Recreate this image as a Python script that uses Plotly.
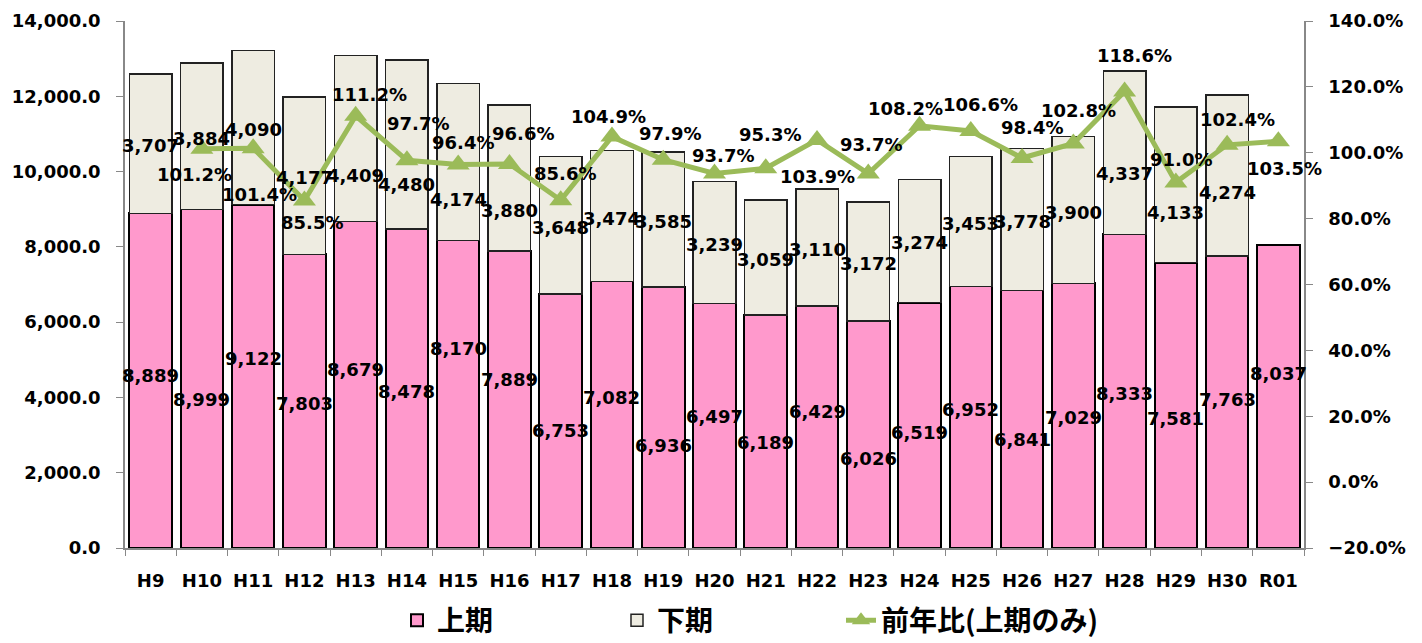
import plotly.graph_objects as go

categories = ["H9", "H10", "H11", "H12", "H13", "H14", "H15", "H16", "H17", "H18", "H19",
              "H20", "H21", "H22", "H23", "H24", "H25", "H26", "H27", "H28", "H29", "H30", "R01"]
first_half = [8889, 8999, 9122, 7803, 8679, 8478, 8170, 7889, 6753, 7082, 6936,
              6497, 6189, 6429, 6026, 6519, 6952, 6841, 7029, 8333, 7581, 7763, 8037]
second_half = [3707, 3884, 4090, 4177, 4409, 4480, 4174, 3880, 3648, 3474, 3585,
               3239, 3059, 3110, 3172, 3274, 3453, 3778, 3900, 4337, 4133, 4274, None]
yoy_ratio = [None, 101.2, 101.4, 85.5, 111.2, 97.7, 96.4, 96.6, 85.6, 104.9, 97.9,
             93.7, 95.3, 103.9, 93.7, 108.2, 106.6, 98.4, 102.8, 118.6, 91.0, 102.4, 103.5]

# label nudges in pixels (style only: positive = up / right)
first_label_dy = [5, -21, 18, -2, 15, -3, 46, 20, -10, 17, -28, 9, -11, 16, -24, -7, 8, -20, -2, -2, -13, 2, 23]
second_label_dy = [-2, -2, -2, -2, -37, -40, -38, -32, -2, -2, -2, -2, -2, -2, -2, -2, -2, -2, -2, -21, -28, -17, 0]
ratio_label_dy = [0, -26, -46, -22, 21, 37, 22, 30, 27, 20, 26, 18, 34, -37, 29, 17, 27, 31, 33, 36, 23, 25, -27]
ratio_label_dx = [0, -7, 6, 8, 14, 11, 5, 14, 4, -3, 7, 8, 4, 0, 3, -14, 10, 10, 5, 10, 5, 10, 6]

FONT = "DejaVu Sans"
lab_font = dict(family=FONT, size=18, color="black", weight="bold")

fig = go.Figure()
fig.add_trace(go.Bar(
    x=categories, y=first_half, name="上期", legend="legend",
    marker=dict(color="#FF99CC", line=dict(color="black", width=2)),
))
fig.add_trace(go.Bar(
    x=categories, y=second_half, name="下期", legend="legend2",
    marker=dict(color="#EEECE1", line=dict(color="#222222", width=1.5)),
))
fig.add_trace(go.Scatter(
    x=categories, y=yoy_ratio, name="前年比(上期のみ)", yaxis="y2", legend="legend3",
    mode="lines+markers",
    line=dict(color="#9BBB59", width=5),
    marker=dict(symbol="triangle-up", size=20, color="#9BBB59"),
))

annotations = []
for i, c in enumerate(categories):
    a = first_half[i]
    annotations.append(dict(x=c, y=a / 2, xref="x", yref="y", text=f"{a:,}",
                            showarrow=False, font=lab_font, yshift=first_label_dy[i]))
    b = second_half[i]
    if b is not None:
        annotations.append(dict(x=c, y=a + b / 2, xref="x", yref="y", text=f"{b:,}",
                                showarrow=False, font=lab_font, yshift=second_label_dy[i]))
    r = yoy_ratio[i]
    if r is not None:
        annotations.append(dict(x=c, y=r, xref="x", yref="y2", text=f"{r:.1f}%",
                                showarrow=False, font=lab_font,
                                yshift=ratio_label_dy[i], xshift=ratio_label_dx[i]))

tick_font = dict(family=FONT, size=18, color="black", weight="bold")
leg_font = dict(family="Noto Sans CJK JP", size=28, color="black", weight="bold")
leg_common = dict(orientation="h", xanchor="left", y=-0.09, yanchor="top",
                  font=leg_font, bgcolor="rgba(0,0,0,0)")

fig.update_layout(
    width=1414, height=635,
    margin=dict(l=117, r=118, t=13, b=95, autoexpand=False),
    barmode="stack", bargap=0.17,
    plot_bgcolor="white", paper_bgcolor="white",
    annotations=annotations,
    xaxis=dict(type="category", range=[-0.5, len(categories) - 0.5], showline=True,
               linecolor="#888888", linewidth=1.5,
               ticks="outside", tickson="boundaries", ticklen=6, tickcolor="#888888",
               tickfont=tick_font, ticklabelstandoff=16, showgrid=False),
    yaxis=dict(range=[0, 14000], dtick=2000, tickformat=",.1f", showline=True,
               linecolor="#888888", linewidth=1.5, ticks="outside", ticklen=7,
               tickcolor="#888888", tickfont=tick_font, showgrid=False, zeroline=False,
               ticklabelstandoff=12),
    yaxis2=dict(range=[-20, 140], dtick=20, tickformat=".1f", ticksuffix="%",
                overlaying="y", side="right", showline=True, linecolor="#888888",
                linewidth=1.5, ticks="outside", ticklen=7, tickcolor="#888888",
                tickfont=tick_font, showgrid=False, zeroline=False, ticklabelstandoff=12),
    legend=dict(x=0.2307, **leg_common),
    legend2=dict(x=0.4173, **leg_common),
    legend3=dict(x=0.6073, **leg_common),
    showlegend=True,
)

fig.write_html("out.html")
